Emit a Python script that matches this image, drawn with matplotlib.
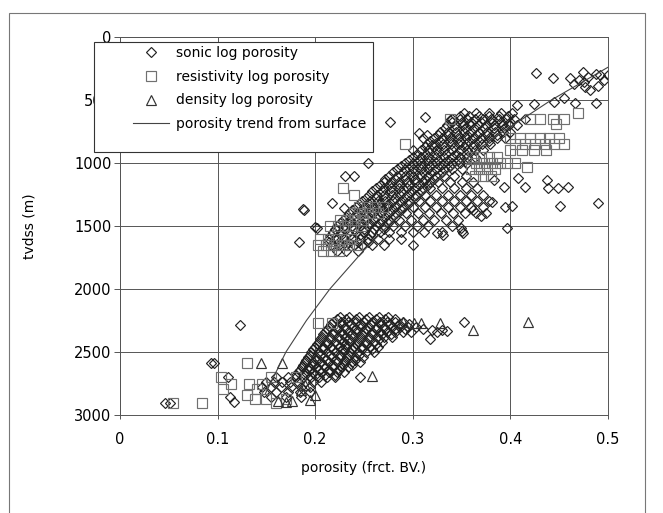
import matplotlib
matplotlib.use("Agg")
import matplotlib.pyplot as plt
from matplotlib.patches import Rectangle
from matplotlib.lines import Line2D

# --- data (porosity in frct. BV, depth tvdss in m) ---

# sonic log porosity, dense upper band: (depth, porosities)
sonic_upper_rows = [
    (600, [0.352, 0.365, 0.378, 0.390, 0.402]),
    (650, [0.340, 0.348, 0.356, 0.364, 0.372, 0.380, 0.388, 0.396, 0.404, 0.415]),
    (700, [0.335, 0.343, 0.351, 0.359, 0.367, 0.375, 0.383, 0.391, 0.399, 0.407]),
    (750, [0.328, 0.336, 0.344, 0.352, 0.360, 0.368, 0.376, 0.384, 0.392, 0.400]),
    (800, [0.322, 0.330, 0.338, 0.346, 0.354, 0.362, 0.370, 0.378, 0.386, 0.394]),
    (850, [0.315, 0.323, 0.331, 0.339, 0.347, 0.355, 0.363, 0.371, 0.379]),
    (900, [0.308, 0.316, 0.324, 0.332, 0.340, 0.348, 0.356, 0.364, 0.372]),
    (950, [0.300, 0.308, 0.316, 0.324, 0.332, 0.340, 0.348, 0.356, 0.364]),
    (1000, [0.292, 0.300, 0.308, 0.316, 0.324, 0.332, 0.340, 0.348, 0.356]),
    (1050, [0.284, 0.292, 0.300, 0.308, 0.316, 0.324, 0.332, 0.340, 0.350]),
    (1100, [0.276, 0.284, 0.292, 0.300, 0.308, 0.316, 0.324, 0.332, 0.342, 0.355]),
    (1150, [0.270, 0.278, 0.286, 0.294, 0.302, 0.310, 0.318, 0.326, 0.338, 0.350, 0.362]),
    (1200, [0.262, 0.270, 0.278, 0.286, 0.294, 0.302, 0.310, 0.318, 0.330, 0.342, 0.354, 0.366]),
    (1250, [0.255, 0.263, 0.271, 0.279, 0.287, 0.295, 0.303, 0.312, 0.324, 0.336, 0.348, 0.360, 0.372]),
    (1300, [0.248, 0.256, 0.264, 0.272, 0.280, 0.288, 0.296, 0.306, 0.318, 0.330, 0.342, 0.354, 0.366, 0.378]),
    (1350, [0.242, 0.250, 0.258, 0.266, 0.274, 0.282, 0.290, 0.300, 0.312, 0.324, 0.336, 0.348, 0.360, 0.372]),
    (1400, [0.235, 0.243, 0.251, 0.259, 0.267, 0.275, 0.283, 0.293, 0.305, 0.317, 0.329, 0.341, 0.353, 0.365]),
    (1450, [0.228, 0.236, 0.244, 0.252, 0.260, 0.268, 0.276, 0.286, 0.298, 0.310, 0.322, 0.334, 0.346]),
    (1500, [0.222, 0.230, 0.238, 0.246, 0.254, 0.262, 0.270, 0.280, 0.292, 0.304, 0.316]),
    (1550, [0.218, 0.226, 0.234, 0.242, 0.250, 0.258, 0.266, 0.276, 0.288, 0.300]),
    (1600, [0.214, 0.222, 0.230, 0.238, 0.246, 0.254, 0.264, 0.276, 0.288]),
    (1650, [0.216, 0.224, 0.232, 0.240, 0.248, 0.258, 0.270]),
    (1700, [0.222, 0.232, 0.244]),
]

# sonic log porosity, darkest core of the upper band (in between the rows above)
sonic_upper_core_rows = [
    (625, [0.348, 0.358, 0.368, 0.378, 0.388, 0.398]),
    (675, [0.340, 0.350, 0.360, 0.370, 0.380, 0.390, 0.400]),
    (725, [0.333, 0.343, 0.353, 0.363, 0.373, 0.383, 0.393]),
    (775, [0.326, 0.336, 0.346, 0.356, 0.366, 0.376, 0.386]),
    (825, [0.318, 0.328, 0.338, 0.348, 0.358, 0.368, 0.378]),
    (875, [0.312, 0.322, 0.332, 0.342, 0.352, 0.362]),
    (925, [0.304, 0.314, 0.324, 0.334, 0.344, 0.354]),
    (975, [0.296, 0.306, 0.316, 0.326, 0.336, 0.346]),
    (1025, [0.288, 0.298, 0.308, 0.318, 0.328, 0.338]),
    (1075, [0.280, 0.290, 0.300, 0.310, 0.320, 0.330]),
    (1125, [0.272, 0.282, 0.292, 0.302, 0.312, 0.322]),
    (1175, [0.266, 0.276, 0.286, 0.296, 0.306, 0.316]),
    (1225, [0.258, 0.268, 0.278, 0.288, 0.298, 0.308]),
    (1275, [0.252, 0.262, 0.272, 0.282, 0.292, 0.302]),
    (1325, [0.245, 0.255, 0.265, 0.275, 0.285, 0.295]),
    (1375, [0.238, 0.248, 0.258, 0.268, 0.278, 0.288]),
    (1425, [0.232, 0.242, 0.252, 0.262, 0.272, 0.282]),
    (1475, [0.225, 0.235, 0.245, 0.255, 0.265, 0.275]),
    (1525, [0.220, 0.230, 0.240, 0.250, 0.260, 0.270]),
    (1575, [0.216, 0.226, 0.236, 0.246, 0.256]),
    (1625, [0.214, 0.224, 0.234, 0.244, 0.254]),
]

# sonic log porosity, dense lower band
sonic_lower_rows = [
    (2220, [0.225, 0.235, 0.245, 0.255, 0.265, 0.275]),
    (2260, [0.218, 0.226, 0.234, 0.242, 0.250, 0.258, 0.266, 0.274, 0.282, 0.290]),
    (2300, [0.215, 0.223, 0.231, 0.239, 0.247, 0.255, 0.263, 0.271, 0.279, 0.287, 0.295, 0.303]),
    (2340, [0.210, 0.218, 0.226, 0.234, 0.242, 0.250, 0.258, 0.266, 0.274, 0.282, 0.290, 0.298]),
    (2380, [0.207, 0.215, 0.223, 0.231, 0.239, 0.247, 0.255, 0.263, 0.271, 0.279]),
    (2420, [0.204, 0.212, 0.220, 0.228, 0.236, 0.244, 0.252, 0.260, 0.268]),
    (2460, [0.200, 0.208, 0.216, 0.224, 0.232, 0.240, 0.248, 0.256, 0.264]),
    (2500, [0.196, 0.204, 0.212, 0.220, 0.228, 0.236, 0.244, 0.252, 0.260]),
    (2540, [0.193, 0.201, 0.209, 0.217, 0.225, 0.233, 0.241, 0.249]),
    (2580, [0.190, 0.198, 0.206, 0.214, 0.222, 0.230, 0.238, 0.246]),
    (2620, [0.186, 0.194, 0.202, 0.210, 0.218, 0.226, 0.234]),
    (2660, [0.182, 0.190, 0.198, 0.206, 0.214, 0.222, 0.230]),
    (2700, [0.160, 0.172, 0.180, 0.188, 0.196, 0.204, 0.212, 0.220]),
    (2740, [0.150, 0.158, 0.166, 0.174, 0.182, 0.190, 0.198, 0.206]),
    (2780, [0.145, 0.155, 0.165, 0.175, 0.185, 0.195]),
    (2820, [0.148, 0.160, 0.172, 0.184, 0.195]),
    (2860, [0.155, 0.170, 0.185]),
]

# sonic log porosity, darkest core of the lower band
sonic_lower_core_rows = [
    (2240, [0.222, 0.232, 0.242, 0.252, 0.262, 0.272, 0.282]),
    (2280, [0.216, 0.226, 0.236, 0.246, 0.256, 0.266, 0.276, 0.286, 0.296]),
    (2320, [0.212, 0.222, 0.232, 0.242, 0.252, 0.262, 0.272, 0.282, 0.292]),
    (2360, [0.208, 0.218, 0.228, 0.238, 0.248, 0.258, 0.268, 0.278]),
    (2400, [0.205, 0.215, 0.225, 0.235, 0.245, 0.255, 0.265]),
    (2440, [0.202, 0.212, 0.222, 0.232, 0.242, 0.252, 0.262]),
    (2480, [0.198, 0.208, 0.218, 0.228, 0.238, 0.248, 0.258]),
    (2520, [0.195, 0.205, 0.215, 0.225, 0.235, 0.245]),
    (2560, [0.191, 0.201, 0.211, 0.221, 0.231, 0.241]),
    (2600, [0.188, 0.198, 0.208, 0.218, 0.228, 0.238]),
    (2640, [0.184, 0.194, 0.204, 0.214, 0.224]),
    (2680, [0.180, 0.190, 0.200, 0.210, 0.220]),
]

# sonic log porosity, scattered points
sonic_sparse_phi = [
    0.426, 0.444, 0.461, 0.474, 0.488, 0.492, 0.470, 0.475, 0.480, 0.490, 0.476,
    0.465, 0.482, 0.488, 0.466, 0.407, 0.424, 0.445, 0.455, 0.496, 0.500,
    0.277, 0.312, 0.338, 0.306, 0.320, 0.300, 0.310, 0.315,
    0.254, 0.231, 0.240, 0.217, 0.189, 0.183, 0.200, 0.188, 0.229, 0.202,
    0.383, 0.393, 0.408, 0.415, 0.438, 0.439, 0.449, 0.459, 0.451, 0.490,
    0.381, 0.394, 0.402, 0.397, 0.350, 0.340, 0.330, 0.300,
    0.311, 0.325, 0.331, 0.349, 0.351, 0.362, 0.370, 0.375,
    0.123, 0.093, 0.046, 0.051, 0.111, 0.113, 0.117, 0.096,
    0.318, 0.320, 0.325, 0.330, 0.335, 0.352, 0.246, 0.310,
]
sonic_sparse_depth = [
    288, 328, 328, 275, 290, 300, 340, 360, 320, 390, 400,
    375, 420, 527, 527, 540, 529, 515, 487, 340, 300,
    675, 635, 660, 762, 857, 897, 800, 780,
    1000, 1100, 1100, 1317, 1373, 1627, 1508, 1365, 1357, 1516,
    1135, 1190, 1119, 1190, 1135, 1198, 1198, 1190, 1341, 1317,
    1310, 1350, 1340, 1516, 1540, 1500, 1550, 1650,
    1548, 1556, 1571, 1516, 1556, 1373, 1420, 1400,
    2286, 2587, 2905, 2905, 2698, 2857, 2897, 2590,
    2397, 2325, 2340, 2325, 2335, 2262, 2697, 2320,
]

# resistivity log porosity, blocks
resist_rows = [
    (600, [0.469]),
    (650, [0.420, 0.430, 0.444, 0.455, 0.338]),
    (690, [0.447]),
    (800, [0.400, 0.410, 0.420, 0.430, 0.440, 0.450]),
    (850, [0.405, 0.415, 0.425, 0.435, 0.445, 0.455, 0.292]),
    (900, [0.400, 0.412, 0.424, 0.436]),
    (950, [0.362, 0.370, 0.378, 0.386]),
    (1000, [0.365, 0.373, 0.381, 0.389, 0.397, 0.405]),
    (1030, [0.417]),
    (1050, [0.360, 0.368, 0.376, 0.384]),
    (1100, [0.364, 0.372, 0.380]),
    (1200, [0.228]),
    (1250, [0.240]),
    (1350, [0.245, 0.253, 0.261, 0.269]),
    (1400, [0.240, 0.248, 0.256, 0.264]),
    (1450, [0.225, 0.233, 0.241, 0.249]),
    (1500, [0.215, 0.223, 0.231, 0.239, 0.247]),
    (1600, [0.205, 0.213, 0.221, 0.229, 0.237]),
    (1650, [0.203, 0.211, 0.219, 0.227, 0.235, 0.243]),
    (1700, [0.208, 0.216, 0.224]),
    (2270, [0.203, 0.217]),
    (2590, [0.130]),
    (2700, [0.103, 0.155, 0.180]),
    (2750, [0.114, 0.132, 0.145]),
    (2790, [0.106, 0.140]),
    (2840, [0.130]),
    (2870, [0.138, 0.150, 0.170]),
    (2905, [0.054, 0.084, 0.160]),
]

# density log porosity
density_phi = [0.144, 0.166, 0.162, 0.170, 0.176, 0.195, 0.258, 0.301, 0.308,
               0.328, 0.362, 0.418, 0.290, 0.200, 0.185, 0.190]
density_depth = [2590, 2590, 2890, 2895, 2890, 2880, 2690, 2270, 2270,
                 2270, 2325, 2262, 2260, 2840, 2800, 2760]

# porosity trend from surface
trend_phi = [0.149, 0.170, 0.191, 0.215, 0.249, 0.287, 0.331, 0.383, 0.442, 0.500]
trend_depth = [2830, 2500, 2250, 2000, 1700, 1400, 1100, 800, 500, 240]


def flatten(rows):
    xs, ys = [], []
    for d, row in rows:
        xs += row
        ys += [d] * len(row)
    return xs, ys


sonic_x, sonic_y = [], []
for rows in (sonic_upper_rows, sonic_upper_core_rows,
             sonic_lower_rows, sonic_lower_core_rows):
    xs, ys = flatten(rows)
    sonic_x += xs
    sonic_y += ys
sonic_x += sonic_sparse_phi
sonic_y += sonic_sparse_depth
res_x, res_y = flatten(resist_rows)

plt.rcParams["font.family"] = "DejaVu Sans"

fig = plt.figure(figsize=(6.63, 5.13), dpi=100)
ax = fig.add_axes([120 / 663, 98 / 513, 488 / 663, 378 / 513])

d_style = dict(marker="D", ms=5.6, mfc="none", mec="#222222", mew=0.85)
s_style = dict(marker="s", ms=6.8, mfc="none", mec="#707070", mew=0.85)
t_style = dict(marker="^", ms=7.2, mfc="none", mec="#333333", mew=0.85)

ax.plot(sonic_x, sonic_y, ls="none", zorder=2, **d_style)
ax.plot(res_x, res_y, ls="none", zorder=2, **s_style)
ax.plot(density_phi, density_depth, ls="none", zorder=2, **t_style)
ax.plot(trend_phi, trend_depth, color="#444444", lw=0.8, zorder=3)

ax.set_xlim(0, 0.5)
ax.set_ylim(3000, 0)
ax.set_xticks([0, 0.1, 0.2, 0.3, 0.4, 0.5])
ax.set_xticklabels(["0", "0.1", "0.2", "0.3", "0.4", "0.5"])
ax.set_yticks(range(0, 3001, 500))
ax.grid(True, color="#555555", lw=0.7)
for s in ax.spines.values():
    s.set_color("#555555")
    s.set_linewidth(0.7)
ax.tick_params(axis="y", direction="out", length=4, width=0.7, color="#555555",
               labelsize=10.5, pad=2)
ax.tick_params(axis="x", direction="out", length=3, width=0.7, color="#555555",
               labelsize=10.5, pad=9)
ax.set_xlabel("porosity (frct. BV.)", fontsize=10, labelpad=10)
ax.set_ylabel("tvdss (m)", fontsize=10, labelpad=27)

# legend box
box = Rectangle(((94 - 120) / 488, 1 - (152 - 37) / 378), 279 / 488, 110 / 378,
                transform=ax.transAxes, facecolor="white", edgecolor="#333333",
                lw=0.8, zorder=4.5, clip_on=False)
ax.add_patch(box)
handles = [
    Line2D([], [], ls="none", **d_style),
    Line2D([], [], ls="none", **s_style),
    Line2D([], [], ls="none", **t_style),
    Line2D([], [], color="#444444", lw=0.8),
]
labels = ["sonic log porosity", "resistivity log porosity",
          "density log porosity", "porosity trend from surface"]
leg = ax.legend(handles, labels, loc="upper left",
                bbox_to_anchor=((133 - 120) / 488, 1 - (46 - 37) / 378),
                frameon=False, fontsize=10, handlelength=2.6, handletextpad=0.5,
                labelspacing=0.7, borderpad=0, borderaxespad=0)
leg.set_zorder(5)

# scanned page border
fig.add_artist(Rectangle((9 / 663, -0.1), 636 / 663, 1.1 - 13 / 513,
                         transform=fig.transFigure, fill=False,
                         edgecolor="#777777", lw=0.8))

fig.savefig("out.png", dpi=100)
